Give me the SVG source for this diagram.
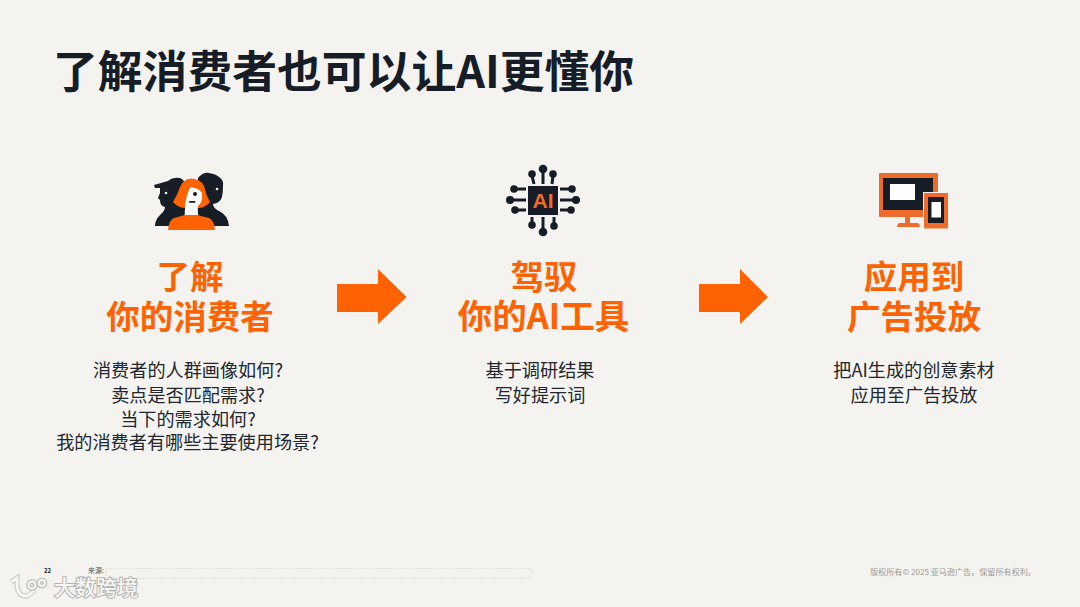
<svg xmlns="http://www.w3.org/2000/svg" width="1080" height="607" viewBox="0 0 1080 607">
<style>
text{font-family:"Noto Sans CJK SC","Liberation Sans",sans-serif}
.t{font-size:44.800px;font-weight:700;fill:#161d26}
.h{font-size:33.500px;font-weight:700;fill:#ff6200;text-anchor:middle}
.b{font-size:18.150px;fill:#22272e;text-anchor:middle}
.d{fill:#161d26}.o{fill:#ff6200}.o2{fill:#ee6c2b}.w{fill:#fff}
.f{fill:#9b9b95;font-size:8.100px}
.wm{font-size:21px;font-weight:500;fill:#f7f6f4;stroke:#b4b4b0;stroke-width:2px;paint-order:stroke}
.l{stroke:#161d26;stroke-width:3;fill:none}
.lh{fill:none;stroke:#c4c4c0;stroke-width:5}
.lw{fill:none;stroke:#f7f6f4;stroke-width:3}
</style>
<rect width="1080" height="607" fill="#f4f3f0"/>
<text class="t" x="53" y="88">了解消费者也可以让AI更懂你</text>
<g id="node-consumer">
<g id="icon-people">
<path class="d" d="M154 185L168 181Q173 177 180 178Q186 180 186 190L184 226L155 226Q155 220 160 215Q165 211 165 207Q160 206 160 200L158 198L160 193L160 188L155 188Z"/>
<path class="d" d="M198 178Q203 172 209 173Q216 174 219 177Q224 180 223 186Q223 192 222 197Q220 203 213 204Q213 208 219 211Q228 215 229 226L200 226L196 200Z"/>
<circle cx="217" cy="189" r="1.300" class="w"/><circle cx="166" cy="193" r="1.300" class="w"/>
<path class="o" d="M173 202Q178 194 180 187Q183 179 191 178.500Q201 179 204 186Q206 195 210 202Q205 208 198 208L184 208Q177 207 173 202Z"/>
<path class="w" d="M190 187.500Q198 187 202 193Q203 202 198 206L197 216L185 216L185 206Q186 196 190 187.500Z"/>
<circle cx="195" cy="194" r="2" class="d"/><rect x="189" y="201" width="6.500" height="1.800" rx="0.900" class="d"/>
<path class="o" d="M168 230Q169 220 174 218L185 215L197 215L209 218Q214 220 215 230Z"/>
</g>
<text class="h" x="190" y="289">了解</text>
<text class="h" x="190" y="329">你的消费者</text>
<text class="b" x="188" y="377">消费者的人群画像如何?</text>
<text class="b" x="188" y="402">卖点是否匹配需求?</text>
<text class="b" x="188" y="426">当下的需求如何?</text>
<text class="b" x="187.500" y="449">我的消费者有哪些主要使用场景?</text>
</g>
<g id="connectors">
<path class="o" d="M337 284H378V269L406.500 297L378 324V312H337Z"/>
<path class="o" d="M699 284H740V269L768 297L740 324V312H699Z"/>
</g>
<g id="node-ai">
<g id="icon-chip">
<rect x="528" y="186" width="30" height="29" class="d"/>
<text x="543" y="208" font-size="21" font-weight="700" fill="#ee6c2b" text-anchor="middle" style="font-family:'Liberation Sans',sans-serif">AI</text>
<path class="l" d="M543 172V184M532 176L534 184M553 176L552 184M532 217V226M543 217V232M554 217V226M514 189H526M510 200H526M515 210H526M560 189H572M560 200H577M560 210H571"/>
<g class="d"><circle cx="543" cy="169" r="4.300"/><circle cx="532" cy="174" r="3.800"/><circle cx="553" cy="174" r="3.800"/>
<circle cx="532" cy="225" r="3.800"/><circle cx="543" cy="232" r="4.300"/><circle cx="554" cy="226" r="3.800"/>
<circle cx="514" cy="189" r="3.800"/><circle cx="510" cy="200" r="4"/><circle cx="515" cy="210" r="3.800"/>
<circle cx="572" cy="189" r="3.800"/><circle cx="576" cy="200" r="4"/><circle cx="571" cy="210" r="3.800"/></g>
</g>
<text class="h" x="544" y="289">驾驭</text>
<text class="h" x="543.500" y="329" style="font-size:34.500px">你的AI工具</text>
<text class="b" x="540" y="377">基于调研结果</text>
<text class="b" x="540" y="402">写好提示词</text>
</g>
<g id="node-ads">
<g id="icon-devices">
<rect x="879" y="173" width="59" height="44" rx="1" class="o2"/>
<rect x="883" y="178" width="50" height="32" class="d"/>
<rect x="890" y="184" width="25" height="16" class="w"/>
<path class="o2" d="M905 217H910V223H918Q920 224 920 227H897Q897 224 899 223H905Z"/>
<rect x="923" y="192" width="26" height="38" fill="#f4f3f0"/>
<rect x="924" y="193" width="24" height="35.500" rx="1" class="o2"/>
<rect x="928" y="197" width="16" height="26" class="d"/>
<rect x="931.500" y="202" width="9.500" height="15.500" class="w"/>
</g>
<text class="h" x="914" y="289">应用到</text>
<text class="h" x="914" y="329">广告投放</text>
<text class="b" x="914" y="377">把AI生成的创意素材</text>
<text class="b" x="914" y="402">应用至广告投放</text>
</g>
<g id="footer">
<text x="44" y="573" font-size="6" font-weight="700" fill="#161d26">22</text>
<text x="88" y="573" font-size="7" fill="#555">来源:</text>
<rect x="106" y="568.500" width="425" height="10" fill="none" stroke="#c4c4c0" stroke-width="0.700" stroke-dasharray="1 1.500"/>
<text class="f" x="870" y="574.500">版权所有© 2025 亚马逊广告。保留所有权利。</text>
</g>
<g id="watermark">
<path class="lh" d="M11 582L17 578V587Q19 597 27 596Q32 594 34 590"/>
<path class="lw" d="M11 582L17 578V587Q19 597 27 596Q32 594 34 590"/>
<circle cx="32" cy="585" r="3.500" class="lh" stroke-width="4.500"/><circle cx="32" cy="585" r="3.500" class="lw" style="stroke-width:2"/>
<circle cx="42" cy="583" r="3" class="lh" stroke-width="4"/><circle cx="42" cy="583" r="3" class="lw" style="stroke-width:2"/>
<text class="wm" x="54" y="595">大数跨境</text>
</g>
</svg>
